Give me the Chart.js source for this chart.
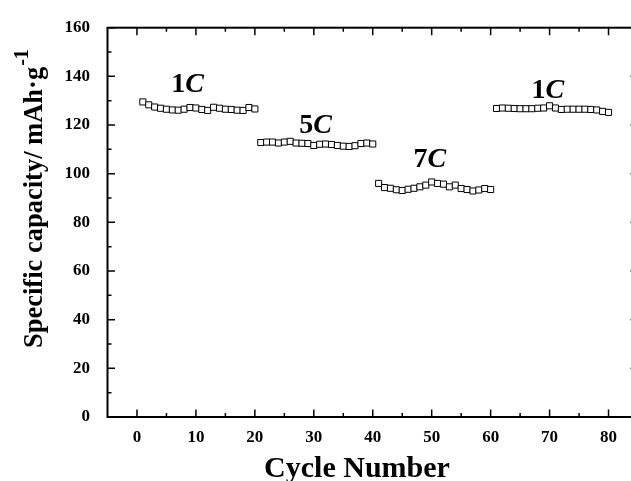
<!DOCTYPE html>
<html>
<head>
<meta charset="utf-8">
<script src="https://cdn.jsdelivr.net/npm/chart.js@4.4.0/dist/chart.umd.min.js"></script>
<style>
    html, body { margin: 0; padding: 0; background: #fff; overflow: hidden; }
    #wrap { width: 645px; height: 481px; }
</style>
</head>
<body>
<div id="wrap"><canvas id="rateChart"></canvas></div>
<script>
// Rate capability data (cycle number vs specific capacity)
const cycles1C = [1, 2, 3, 4, 5, 6, 7, 8, 9, 10, 11, 12, 13, 14, 15, 16, 17, 18, 19, 20];
const capacity1C = [129.5, 128.3, 127.4, 126.9, 126.5, 126.2, 126.1, 126.5, 127.2, 127.0, 126.4, 126.0, 127.3, 126.9, 126.5, 126.4, 126.1, 126.0, 127.2, 126.6];

const cycles5C = [21, 22, 23, 24, 25, 26, 27, 28, 29, 30, 31, 32, 33, 34, 35, 36, 37, 38, 39, 40];
const capacity5C = [112.8, 113.0, 113.0, 112.6, 113.0, 113.3, 112.6, 112.5, 112.4, 111.6, 112.1, 112.2, 112.0, 111.6, 111.3, 111.2, 111.5, 112.4, 112.6, 112.2];

const cycles7C = [41, 42, 43, 44, 45, 46, 47, 48, 49, 50, 51, 52, 53, 54, 55, 56, 57, 58, 59, 60];
const capacity7C = [96.0, 94.3, 94.0, 93.4, 93.1, 93.6, 94.0, 94.6, 95.3, 96.6, 96.0, 95.7, 94.6, 95.3, 93.9, 93.5, 92.9, 93.3, 93.9, 93.5];

const cyclesBack = [61, 62, 63, 64, 65, 66, 67, 68, 69, 70, 71, 72, 73, 74, 75, 76, 77, 78, 79, 80];
const capacityBack = [126.8, 127.0, 126.9, 126.8, 126.7, 126.7, 126.7, 126.9, 127.0, 127.9, 127.0, 126.4, 126.5, 126.5, 126.5, 126.5, 126.4, 126.2, 125.6, 125.2];

const xTickValues = [0, 10, 20, 30, 40, 50, 60, 70, 80];
const yTickValues = [0, 20, 40, 60, 80, 100, 120, 140, 160];

// rate labels: number part and where they sit (data units)
const rateNumbers = ['1', '5', '7', '1'];
const rateX = [8.6, 30.3, 49.7, 69.7];
const rateY = [133.6, 116.9, 102.6, 131.0];

const serif = "'Times New Roman', 'Liberation Serif', serif";

function toPoints(xs, ys) {
    return xs.map((x, i) => ({ x: x, y: ys[i] }));
}

function makeSet(xs, ys) {
    return {
        data: toPoints(xs, ys),
        showLine: false,
        pointStyle: 'rect',
        pointRadius: 4.3,
        pointBorderWidth: 1,
        borderColor: '#000',
        backgroundColor: '#fff'
    };
}

// frame, inside ticks, rate labels and axis titles
const framePlugin = {
    id: 'frame',
    afterDraw(chart) {
        const ctx = chart.ctx;
        const area = chart.chartArea;
        const xs = chart.scales.x;
        const ys = chart.scales.y;
        ctx.save();
        ctx.strokeStyle = '#000';

        // ticks
        ctx.lineWidth = 1.5;
        ctx.beginPath();
        xTickValues.forEach(v => {
            const px = xs.getPixelForValue(v);
            ctx.moveTo(px, area.bottom); ctx.lineTo(px, area.bottom - 7.5);
            ctx.moveTo(px, area.top); ctx.lineTo(px, area.top + 7.5);
            const pm = xs.getPixelForValue(v + 5);
            ctx.moveTo(pm, area.bottom); ctx.lineTo(pm, area.bottom - 4);
            ctx.moveTo(pm, area.top); ctx.lineTo(pm, area.top + 4);
        });
        yTickValues.forEach(v => {
            const py = ys.getPixelForValue(v);
            ctx.moveTo(area.left, py); ctx.lineTo(area.left + 7.5, py);
            ctx.moveTo(area.right, py); ctx.lineTo(area.right - 7.5, py);
            if (v < 160) {
                const pm = ys.getPixelForValue(v + 10);
                ctx.moveTo(area.left, pm); ctx.lineTo(area.left + 4, pm);
                ctx.moveTo(area.right, pm); ctx.lineTo(area.right - 4, pm);
            }
        });
        ctx.stroke();

        ctx.lineWidth = 2;
        ctx.strokeRect(area.left, area.top, area.right - area.left, area.bottom - area.top);

        // rate labels
        ctx.fillStyle = '#000';
        ctx.textBaseline = 'alphabetic';
        ctx.textAlign = 'left';
        rateNumbers.forEach((num, i) => {
            const upright = 'bold 28px ' + serif;
            const italic = 'italic bold 28px ' + serif;
            ctx.font = upright;
            const w1 = ctx.measureText(num).width;
            ctx.font = italic;
            const w2 = ctx.measureText('C').width;
            const cx = xs.getPixelForValue(rateX[i]);
            const by = ys.getPixelForValue(rateY[i]);
            const left = cx - (w1 + w2) / 2;
            ctx.font = upright;
            ctx.fillText(num, left, by);
            ctx.font = italic;
            ctx.fillText('C', left + w1, by);
        });

        // x title
        ctx.font = 'bold 30px ' + serif;
        ctx.textAlign = 'center';
        ctx.fillText('Cycle Number', 357, 477);

        // y title
        ctx.translate(42, 348);
        ctx.rotate(-Math.PI / 2);
        ctx.textAlign = 'left';
        ctx.font = 'bold 26.5px ' + serif;
        const main = 'Specific capacity/ mAh\u00b7g';
        ctx.fillText(main, 0, 0);
        const mw = ctx.measureText(main).width;
        ctx.font = 'bold 20px ' + serif;
        ctx.fillText('-1', mw + 1, -14);
        ctx.restore();
    }
};

document.addEventListener('DOMContentLoaded', function() {
    const ctx = document.getElementById('rateChart').getContext('2d');
    new Chart(ctx, {
        type: 'scatter',
        data: {
            datasets: [
                makeSet(cycles1C, capacity1C),
                makeSet(cycles5C, capacity5C),
                makeSet(cycles7C, capacity7C),
                makeSet(cyclesBack, capacityBack)
            ]
        },
        options: {
            responsive: true,
            maintainAspectRatio: false,
            animation: false,
            layout: { padding: { top: 23, right: 7, left: 0, bottom: 0 } },
            plugins: { legend: { display: false }, tooltip: { enabled: false } },
            scales: {
                x: {
                    type: 'linear',
                    min: -5,
                    max: 85,
                    afterBuildTicks: scale => { scale.ticks = xTickValues.map(v => ({ value: v })); },
                    afterFit: scale => { scale.height = 64; },
                    grid: { display: false, drawTicks: false },
                    border: { display: false },
                    ticks: {
                        color: '#000',
                        padding: 10.5,
                        maxRotation: 0,
                        font: { family: serif, size: 17, weight: 'bold' }
                    }
                },
                y: {
                    type: 'linear',
                    min: 0,
                    max: 160,
                    afterBuildTicks: scale => { scale.ticks = yTickValues.map(v => ({ value: v })); },
                    afterFit: scale => { scale.width = 107.5; },
                    grid: { display: false, drawTicks: false },
                    border: { display: false },
                    ticks: {
                        color: '#000',
                        padding: 17.5,
                        font: { family: serif, size: 17, weight: 'bold' }
                    }
                }
            }
        },
        plugins: [framePlugin]
    });
});
</script>
</body>
</html>
